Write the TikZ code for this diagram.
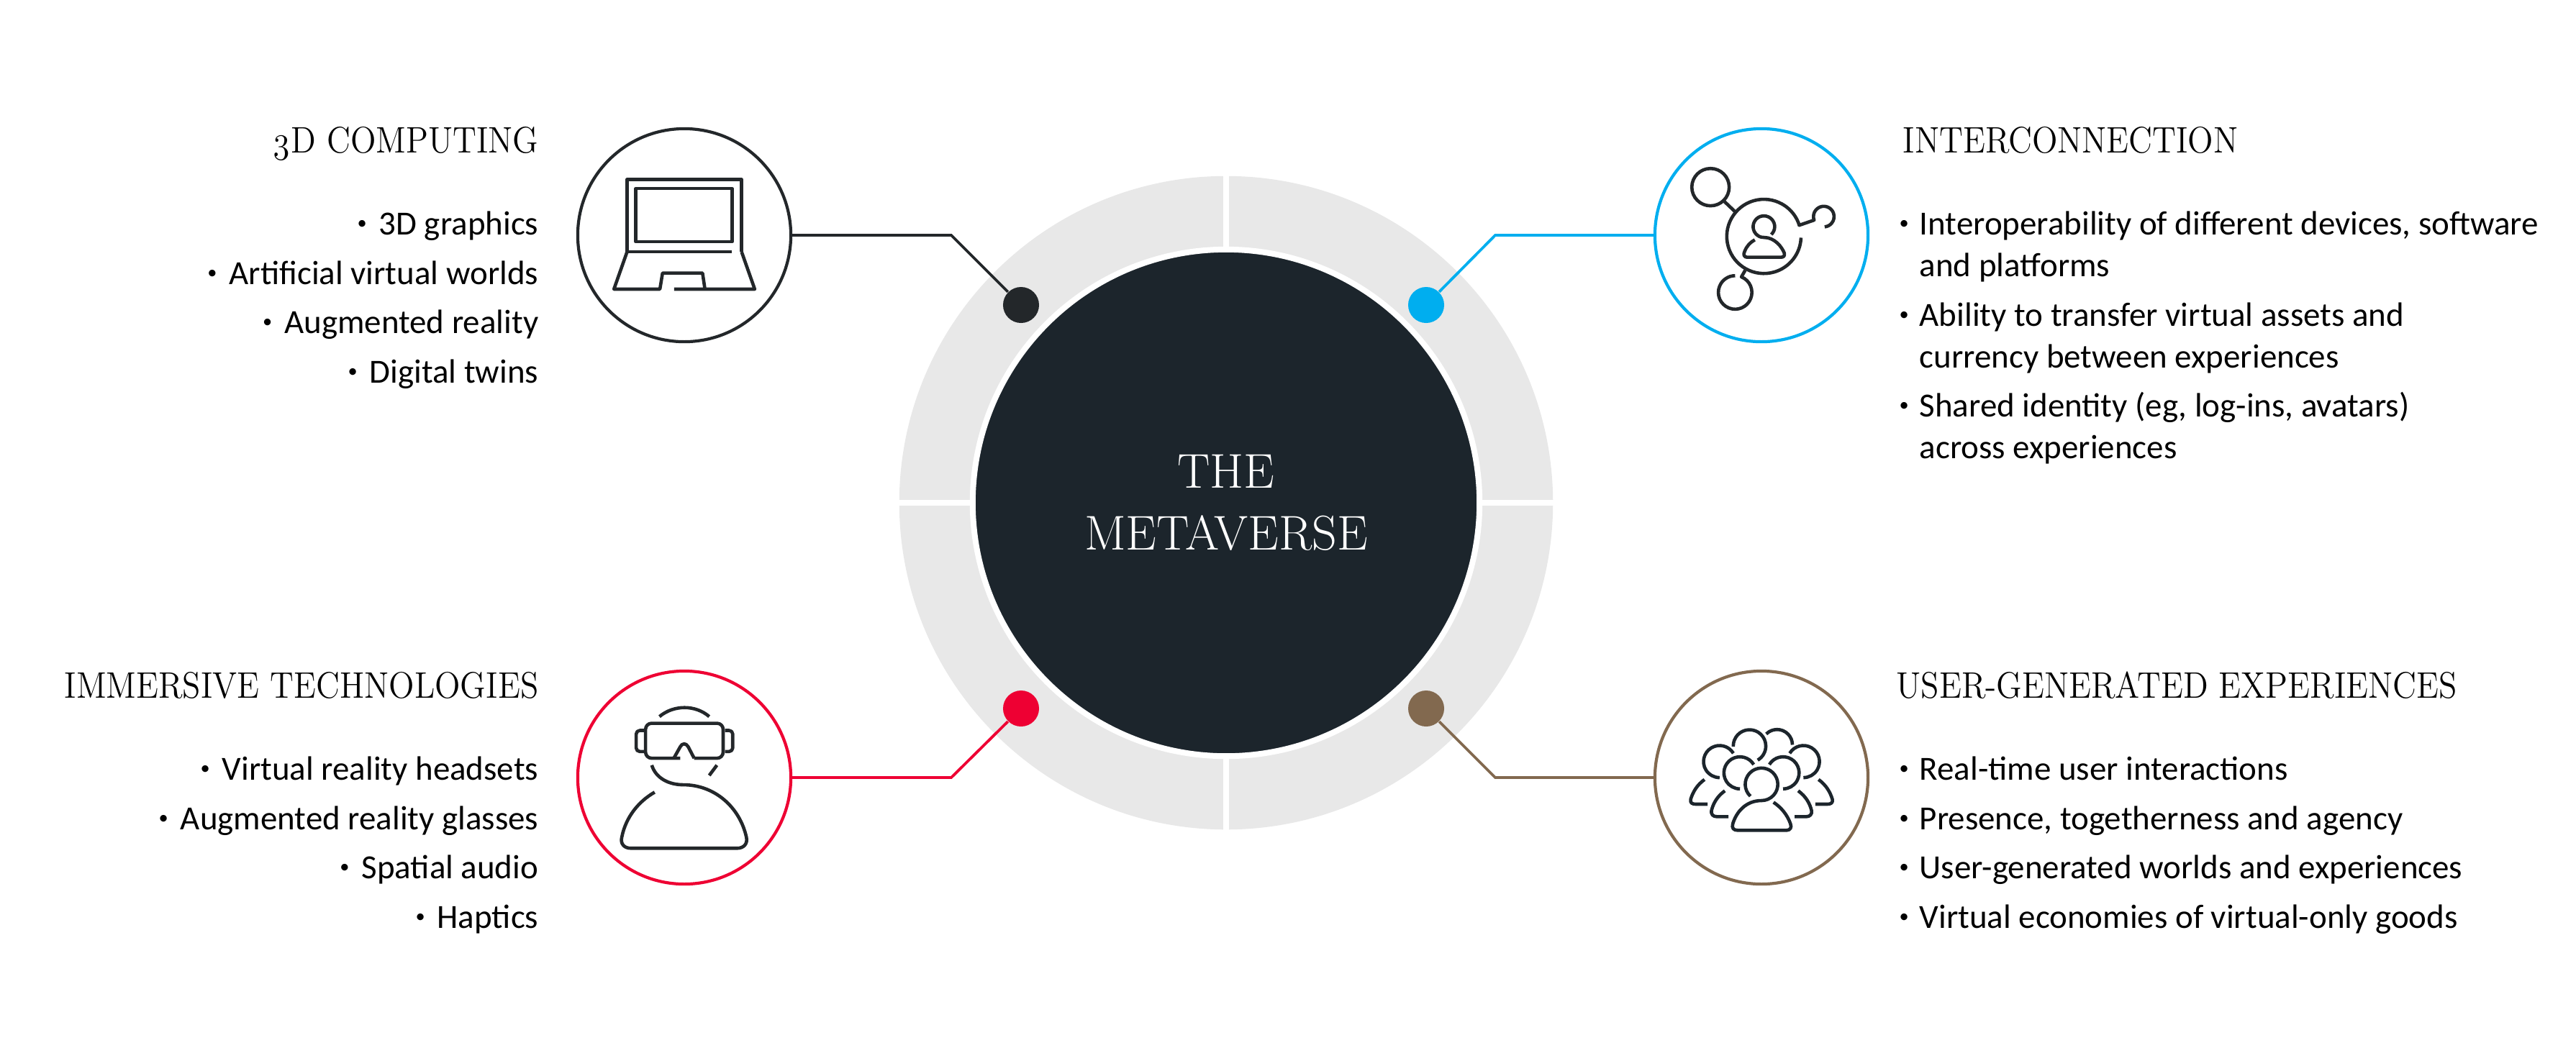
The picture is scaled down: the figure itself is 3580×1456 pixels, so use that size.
\documentclass[tikz,border=0pt]{standalone}
\usepackage{fontspec}
\newfontfamily\bodyfont{Carlito}
\newfontfamily\headfont{lmroman12-regular}[Extension=.otf, FakeStretch=0.905]
\usetikzlibrary{positioning}

\definecolor{hubdark}{HTML}{1C252C}
\definecolor{ringgrey}{HTML}{E8E8E8}
\definecolor{inkdark}{HTML}{23272A}
\definecolor{skyblue}{HTML}{00AEEF}
\definecolor{alertred}{HTML}{EE0033}
\definecolor{earthbrown}{HTML}{82694F}

\tikzset{
	heading/.style={inner sep=0pt, font=\headfont\fontsize{14.6}{18}\selectfont},
	listitem/.style={inner sep=0pt, align=left, font=\bodyfont\fontsize{13.35}{16.4}\selectfont},
	iconring/.style={circle, draw=#1, line width=0.042cm, fill=white, minimum size=2.96cm, inner sep=0pt},
	dotmark/.style={circle, fill=#1, minimum size=0.5cm, inner sep=0pt},
	connector/.style={draw=#1, line width=0.038cm, line join=miter},
	iconline/.style={draw=inkdark, line width=0.046cm, line join=round},
	crowdline/.style={draw=hubdark, line width=0.046cm, line join=round}
}
\newcommand{\dotglyph}{\raisebox{0.35ex}{\fontsize{7.5}{8}\selectfont•}}
\newcommand{\bul}{\makebox[0.32cm][l]{\hspace{0.04cm}\dotglyph}}
\newcommand{\nobul}{\makebox[0.32cm][l]{}}
\newcommand{\lbul}{\dotglyph\hspace{0.17cm}}

\begin{document}
\begin{tikzpicture}[x=0.01cm, y=-0.01cm]
	\useasboundingbox (0,0) rectangle (3580,1456);

	%% The grey ring, cut in four by white lines, and the hub on top
	\node at (1704,699) [circle, fill=ringgrey, minimum size=9.08cm, inner sep=0pt] (ring) {};
	\draw [white, line width=0.08cm] (ring.north) -- (ring.south);
	\draw [white, line width=0.08cm] (ring.west) -- (ring.east);
	\node at (ring.center) [circle, fill=hubdark, draw=white, line width=0.08cm, minimum size=7.04cm,
		inner sep=0pt, align=center, text=white, font=\fontsize{19.3}{24.4}\selectfont] (hub) {THE\\METAVERSE};

	%% The four icon circles
	\node at (951,327) [iconring=inkdark] (laptop) {};
	\node at (2448,327) [iconring=skyblue] (network) {};
	\node at (951,1081) [iconring=alertred] (headset) {};
	\node at (2448,1081) [iconring=earthbrown] (crowd) {};

	%% Dots on the ring
	\node at (1419,424) [dotmark=inkdark] (dotlaptop) {};
	\node at (1982,424) [dotmark=skyblue] (dotnetwork) {};
	\node at (1419,985) [dotmark=alertred] (dotheadset) {};
	\node at (1982,985) [dotmark=earthbrown] (dotcrowd) {};

	%% Elbows of the connectors
	\coordinate (elbowlaptop) at (1322,327);
	\coordinate (elbownetwork) at (2078,327);
	\coordinate (elbowheadset) at (1322,1081);
	\coordinate (elbowcrowd) at (2078,1081);

	\draw [connector=inkdark] (laptop.east) -- (elbowlaptop) -- (dotlaptop);
	\draw [connector=skyblue] (network.west) -- (elbownetwork) -- (dotnetwork);
	\draw [connector=alertred] (headset.east) -- (elbowheadset) -- (dotheadset);
	\draw [connector=earthbrown] (crowd.west) -- (elbowcrowd) -- (dotcrowd);

	%% Top left block
	\node at (749,212) [heading, anchor=base east] (titlelaptop) {{\addfontfeature{Numbers=OldStyle}3}D COMPUTING};
	\node at (749,326) [listitem, anchor=base east] (la) {\lbul 3D graphics};
	\node at (749,395) [listitem, anchor=base east] (lb) {\lbul Artificial virtual worlds};
	\node at (749,463) [listitem, anchor=base east] (lc) {\lbul Augmented reality};
	\node at (749,532) [listitem, anchor=base east] (ld) {\lbul Digital twins};

	%% Bottom left block
	\node at (749,970) [heading, anchor=base east] (titleheadset) {IMMERSIVE TECHNOLOGIES};
	\node at (749,1084) [listitem, anchor=base east] (ha) {\lbul Virtual reality headsets};
	\node at (749,1153) [listitem, anchor=base east] (hb) {\lbul Augmented reality glasses};
	\node at (749,1221) [listitem, anchor=base east] (hc) {\lbul Spatial audio};
	\node at (749,1290) [listitem, anchor=base east] (hd) {\lbul Haptics};

	%% Top right block
	\node at (2644,212) [heading, anchor=base west] (titlenetwork) {INTERCONNECTION};
	\node at (2635,384) [listitem, anchor=base west] (na) {\bul Interoperability of different devices, software\\\nobul and platforms};
	\node at (2635,511) [listitem, anchor=base west] (nb) {\bul Ability to transfer virtual assets and\\\nobul currency between experiences};
	\node at (2635,637) [listitem, anchor=base west] (nc) {\bul Shared identity (eg, log-ins, avatars)\\\nobul across experiences};

	%% Bottom right block
	\node at (2635,970) [heading, anchor=base west] (titlecrowd) {USER-GENERATED EXPERIENCES};
	\node at (2635,1084) [listitem, anchor=base west] (ca) {\bul Real-time user interactions};
	\node at (2635,1153) [listitem, anchor=base west] (cb) {\bul Presence, togetherness and agency};
	\node at (2635,1221) [listitem, anchor=base west] (cc) {\bul User-generated worlds and experiences};
	\node at (2635,1290) [listitem, anchor=base west] (cd) {\bul Virtual economies of virtual-only goods};

	%% Laptop icon
	\begin{scope}[shift={(780,152)}, x=0.003333cm, y=-0.003333cm]
		\draw [iconline] (275,595) -- (275,293) -- (753,293) -- (753,595);
		\draw [iconline] (311,331) rectangle (713,553);
		\draw [iconline] (275,595) -- (713,595);
		\draw [iconline] (753,595) -- (808,751) -- (471,751);
		\draw [iconline] (600,751) -- (590,684) -- (423,684) -- (412,751) -- (220,751) -- (275,595);
	\end{scope}

	%% Network icon
	\begin{scope}[shift={(2280,152)}, x=0.003333cm, y=-0.003333cm]
		\draw [iconline] (292,325) circle [radius=78];
		\draw [iconline] (350,385) -- (395,428);
		\draw [iconline] (664,488) arc [start angle=-16, end angle=-358, radius=155];
		\draw [iconline] (660,485) -- (724.6,462.7) arc [start angle=160, end angle=445, radius=43];
		\draw [iconline] (437,672) -- (421,700) arc [start angle=-68, end angle=270, radius=70];
		\draw [iconline] (545.7,523) arc [start angle=47, end angle=-219, radius=45]
			.. controls (490,530) and (500,535) .. (515,535)
			.. controls (560,535) and (590,575) .. (600,600)
			.. controls (603,612) and (598,618) .. (585,618) -- (445,618)
			.. controls (432,618) and (428,606) .. (434,595)
			.. controls (442,572) and (458,555) .. (477,545);
	\end{scope}

	%% Headset icon
	\begin{scope}[shift={(780,919)}, x=0.003333cm, y=-0.003333cm]
		\draw [iconline, rounded corners=2.4pt] (497,406) -- (352,406) -- (352,260) -- (676,260) -- (676,406) -- (555,406);
		\draw [iconline] (470,406) -- (497,358) .. controls (505,342) and (521,342) .. (530,358) -- (555,406);
		\draw [iconline] (470,406) -- (497,406);
		\draw [iconline, rounded corners=1.4pt] (345,290) -- (313,290) -- (313,378) -- (345,378);
		\draw [iconline, rounded corners=1.4pt] (684,290) -- (716,290) -- (716,378) -- (684,378);
		\draw [iconline] (410,232) .. controls (470,182) and (560,182) .. (618,232);
		\draw [iconline] (650,435) -- (618,478);
		\draw [iconline] (378,435) .. controls (395,490) and (450,517) .. (510,517)
			.. controls (640,517) and (745,610) .. (773,735)
			.. controls (780,765) and (760,782) .. (735,782) -- (290,782)
			.. controls (265,782) and (245,765) .. (253,735)
			.. controls (270,650) and (325,585) .. (390,548);
	\end{scope}

	%% Crowd icon, front person first
	\begin{scope}[shift={(2280,919)}, x=0.003333cm, y=-0.003333cm]
		\draw [crowdline] (458.6,564.7) arc [start angle=133, end angle=450, radius=68]
			.. controls (440,583) and (400,630) .. (385,680)
			.. controls (380,698) and (388,707) .. (405,707) -- (610,707)
			.. controls (625,707) and (632,695) .. (626,680)
			.. controls (612,640) and (585,610) .. (555,590);
		\draw [crowdline] (472.4,432.5) arc [start angle=-31, end angle=-270, radius=67];
		\draw [crowdline] (352,542) .. controls (320,565) and (303,595) .. (296,625)
			.. controls (293,640) and (303,650) .. (318,650) -- (367,650);
		\draw [crowdline] (537.6,432.5) arc [start angle=211, end angle=450, radius=67];
		\draw [crowdline] (658,542) .. controls (690,565) and (707,595) .. (714,625)
			.. controls (717,640) and (707,650) .. (692,650) -- (643,650);
		\draw [crowdline] (387.4,385.5) arc [start angle=-31, end angle=-270, radius=67];
		\draw [crowdline] (267,495) .. controls (235,518) and (218,548) .. (209,578)
			.. controls (206,593) and (216,598) .. (231,598) -- (280,598);
		\draw [crowdline] (622.6,385.5) arc [start angle=211, end angle=450, radius=67];
		\draw [crowdline] (743,495) .. controls (775,518) and (792,548) .. (801,578)
			.. controls (804,593) and (794,598) .. (779,598) -- (730,598);
		\draw [crowdline] (387,357.4) arc [start angle=178, end angle=420, radius=68];
		\draw [crowdline] (524.7,304.7) arc [start angle=225, end angle=360, radius=64];
	\end{scope}
\end{tikzpicture}
\end{document}
